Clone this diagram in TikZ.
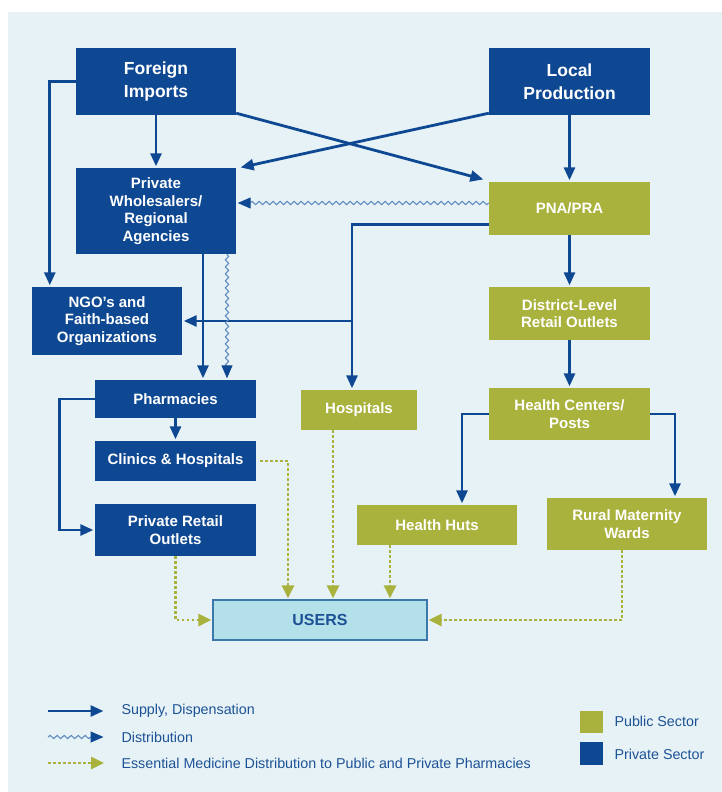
\documentclass[tikz,border=0pt]{standalone}
\usepackage{fontspec}
\setmainfont{Liberation Sans}
\usetikzlibrary{arrows.meta,calc,decorations.pathmorphing}
\definecolor{bgc}{RGB}{230,242,246}
\definecolor{dblue}{RGB}{14,72,146}
\definecolor{olive}{RGB}{170,178,62}
\definecolor{ufill}{RGB}{180,224,233}
\definecolor{uborder}{RGB}{60,120,170}
\definecolor{wblue}{RGB}{95,140,192}
\definecolor{tblue}{RGB}{30,82,150}
\tikzset{
  pbox/.style={draw=none, fill=dblue, text=white, inner sep=0pt, align=center,
    font=\bfseries\fontsize{15}{17.5}\selectfont},
  gbox/.style={pbox, fill=olive},
  bigtext/.style={font=\bfseries\fontsize{17.5}{23}\selectfont},
  sup/.style={draw=dblue, line width=2.8pt, shorten >=1.5pt, -{Triangle[length=13pt,width=11pt]}},
  dist/.style={draw=wblue, line width=1.1pt,
    decorate, decoration={snake, amplitude=1.6pt, segment length=7pt, post length=11pt},
    shorten >=1.5pt, -{Triangle[length=13pt,width=11pt,color=dblue]}},
  ess/.style={draw=olive, line width=2.8pt, dash pattern=on 2.5pt off 2.5pt, shorten >=1pt,
    -{Triangle[length=13pt,width=12pt,color=olive]}},
  legtext/.style={anchor=west, text=tblue, font=\fontsize{14.3}{17}\selectfont}
}
\begin{document}
\begin{tikzpicture}[x=1pt,y=-1pt]
\useasboundingbox (0,0) rectangle (722,792);
\fill[white] (0,0) rectangle (722,792);
\fill[bgc] (8,12) rectangle (722,792);

% nodes
\node[pbox, bigtext, minimum width=160pt, minimum height=67pt] (fi) at (156,81.5) {Foreign\\Imports};
\node[pbox, bigtext, minimum width=161pt, minimum height=67pt] (lp) at (569.5,81.5) {Local\\Production};
\node[pbox, minimum width=160pt, minimum height=86pt] (pw) at (156,211) {Private\\Wholesalers/\\Regional\\Agencies};
\node[gbox, minimum width=161pt, minimum height=53pt] (pna) at (569.5,208.5) {PNA/PRA};
\node[pbox, minimum width=150pt, minimum height=68pt] (ngo) at (107,321) {NGO's and\\Faith-based\\Organizations};
\node[gbox, minimum width=161pt, minimum height=53pt] (dl) at (569.5,313.5) {District-Level\\Retail Outlets};
\node[pbox, minimum width=161pt, minimum height=38pt] (ph) at (175.5,399) {Pharmacies};
\node[pbox, minimum width=161pt, minimum height=40pt] (ch) at (175.5,461) {Clinics \& Hospitals};
\node[pbox, minimum width=161pt, minimum height=52pt] (pro) at (175.5,530) {Private Retail\\Outlets};
\node[gbox, minimum width=116pt, minimum height=40pt] (hosp) at (359,410) {Hospitals};
\node[gbox, minimum width=161pt, minimum height=52pt] (hc) at (569.5,414) {Health Centers/\\Posts};
\node[gbox, minimum width=160pt, minimum height=40pt] (hh) at (437,525) {Health Huts};
\node[gbox, minimum width=160pt, minimum height=52pt] (rmw) at (627,524) {Rural Maternity\\Wards};
\node[draw=uborder, line width=1.2pt, fill=ufill, text=tblue, minimum width=214pt, minimum height=40pt,
  inner sep=0pt, font=\bfseries\fontsize{16}{19}\selectfont] (users) at (320,620) {USERS};

% supply arrows
\draw[sup] (fi.west) -| ($(ngo.north west)+(18,0)$);
\draw[sup] (fi.south) -- (pw.north);
\draw[sup] ($(fi.south east)+(0,-2)$) -- ($(pna.north west)+(-4,-2)$);
\draw[sup] ($(lp.south west)+(0,-2)$) -- ($(pw.north east)+(3,0)$);
\draw[sup] (lp.south) -- (pna.north);
\coordinate (w1) at ($(pna.west)+(0,-5.5)$);
\draw[dist] (w1) -- (w1 -| pw.east);
\coordinate (p1) at ($(pna.west)+(0,16)$);
\coordinate (hx) at ($(hosp.north)+(-7,0)$);
\draw[sup] (p1) -| (hx);
\draw[sup] (hx |- ngo.east) -- (ngo.east);
\coordinate (s1) at ($(pw.south)+(47,0)$);
\draw[sup] (s1) -- (s1 |- ph.north);
\coordinate (s2) at ($(pw.south)+(71,0)$);
\draw[dist] (s2) -- (s2 |- ph.north);
\draw[sup] (pna.south) -- (dl.north);
\draw[sup] (dl.south) -- (hc.north);
\draw[sup] (hc.west) -| ($(hh.north)+(25,0)$);
\draw[sup] (hc.east) -| ($(rmw.north)+(48,0)$);
\draw[sup] (ph.west) -- ++(-35,0) |- (pro.west);
\draw[sup] (ph.south) -- (ch.north);

% essential medicine (dotted)
\draw[ess] ($(ch.east)+(4,0)$) -| ($(users.north)+(-32,0)$);
\coordinate (d1) at ($(hosp.south)+(-26,0)$);
\draw[ess] (d1) -- (d1 |- users.north);
\coordinate (d2) at ($(hh.south)+(-47,0)$);
\draw[ess] (d2) -- (d2 |- users.north);
\draw[ess] (pro.south) |- (users.west);
\draw[ess] ($(rmw.south)+(-5,0)$) |- (users.east);

% legend
\coordinate (l1a) at (48,711); \coordinate (l1b) at (105,711);
\coordinate (l2a) at (48,737); \coordinate (l2b) at (105,737);
\coordinate (l3a) at (48,763); \coordinate (l3b) at (105,763);
\draw[sup] (l1a) -- (l1b);
\draw[dist] (l2a) -- (l2b);
\draw[ess] (l3a) -- (l3b);
\node[legtext] (lt1) at (118,711) {Supply, Dispensation};
\node[legtext] (lt2) at (118,737) {Distribution};
\node[legtext] (lt3) at (118,763) {Essential Medicine Distribution to Public and Private Pharmacies};
\node[fill=olive, minimum width=23pt, minimum height=22pt, inner sep=0pt] (sq1) at (591.5,722) {};
\node[fill=dblue, minimum width=23pt, minimum height=23pt, inner sep=0pt] (sq2) at (591.5,753.5) {};
\node[legtext] (lt4) at (611,721) {Public Sector};
\node[legtext] (lt5) at (611,754) {Private Sector};
\end{tikzpicture}
\end{document}
